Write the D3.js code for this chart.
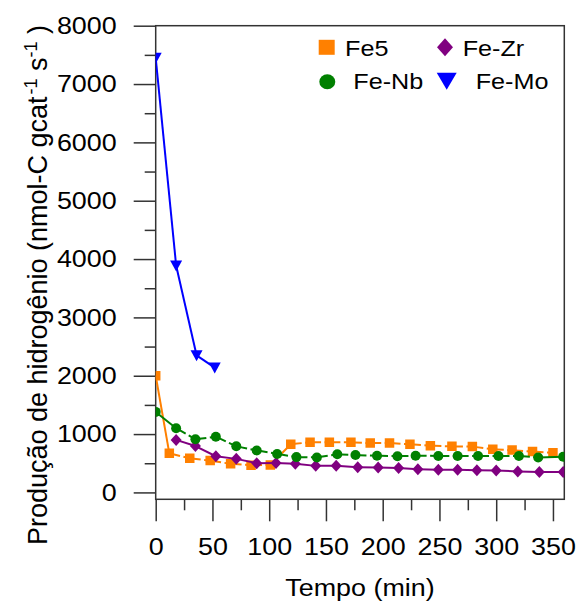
<!DOCTYPE html>
<html><head><meta charset="utf-8">
<script src="https://cdn.jsdelivr.net/npm/d3@7"></script>
<style>body{margin:0;background:#fff}svg{display:block}</style>
</head><body><svg id="c" width="577" height="601"></svg>
<script>
// ---- data ----
const xTickValues = [0, 50, 100, 150, 200, 250, 300, 350];
const yTickValues = [0, 1000, 2000, 3000, 4000, 5000, 6000, 7000, 8000];
const xMinorTicks = [25, 75, 125, 175, 225, 275, 325];
const yMinorTicks = [500, 1500, 2500, 3500, 4500, 5500, 6500, 7500];
const seriesNames = ["Fe5", "Fe-Zr", "Fe-Nb", "Fe-Mo"];

const fe5Time  = [0, 12, 30, 48, 66, 84, 101, 119, 136, 153, 172, 189, 206, 224, 242, 261, 279, 297, 314, 332, 350];
const fe5Value = [2000, 670, 585, 545, 490, 465, 470, 825, 860, 860, 860, 845, 845, 825, 800, 790, 785, 740, 725, 700, 680];

const feZrTime  = [18, 35, 53, 71, 89, 106, 123, 141, 159, 178, 196, 214, 231, 249, 266, 283, 300, 319, 338, 359];
const feZrValue = [900, 795, 620, 575, 500, 505, 490, 455, 455, 430, 425, 420, 395, 390, 390, 380, 375, 360, 350, 350];

const feNbTime  = [0, 18, 35, 53, 71, 89, 107, 124, 142, 160, 176, 195, 213, 229, 249, 266, 284, 302, 320, 337, 359];
const feNbValue = [1380, 1100, 910, 955, 790, 720, 660, 605, 600, 655, 640, 630, 620, 630, 625, 625, 625, 625, 625, 600, 610];

const feMoTime  = [0, 18, 36, 52];
const feMoValue = [7450, 3890, 2350, 2140];

// ---- layout / style ----
const plot = {left: 155.7, right: 564.3, top: 25.7, bottom: 499.3};
const axisColor = "#333";
const FONT = "'Liberation Sans', Arial, sans-serif";
const SX = 1.12;

const styles = {
  "Fe5":   {color: "#FF8000", dashed: true,  marker: "square",   w: 9.5,h: 9.5,lw: 16, lh: 15},
  "Fe-Zr": {color: "#800080", dashed: false, marker: "diamond",  w: 11, h: 12, lw: 16, lh: 18},
  "Fe-Nb": {color: "#008000", dashed: true,  marker: "circle",   w: 10, h: 10, lw: 16, lh: 15},
  "Fe-Mo": {color: "#0000FF", dashed: false, marker: "triangle", w: 12, h: 11, lw: 20, lh: 17}
};
const seriesData = {
  "Fe5":   fe5Time.map((t, i) => [t, fe5Value[i]]),
  "Fe-Zr": feZrTime.map((t, i) => [t, feZrValue[i]]),
  "Fe-Nb": feNbTime.map((t, i) => [t, feNbValue[i]]),
  "Fe-Mo": feMoTime.map((t, i) => [t, feMoValue[i]])
};

const svg = d3.select("#c");
const x = d3.scaleLinear().domain([0, 360]).range([plot.left, plot.right]);
const y = d3.scaleLinear().domain([-118, 8000]).range([plot.bottom, plot.top]);

function markerPath(type, w, h) {
  const a = w / 2, b = h / 2;
  if (type === "square") return `M${-a},${-b}H${a}V${b}H${-a}Z`;
  if (type === "diamond") return `M0,${-b}L${a},0L0,${b}L${-a},0Z`;
  if (type === "triangle") return `M${-a},${-b * 0.9}H${a}L0,${b * 1.1}Z`;
  return `M${-a},0A${a},${b} 0 1,0 ${a},0A${a},${b} 0 1,0 ${-a},0Z`;
}

svg.append("defs").append("clipPath").attr("id", "clip")
  .append("rect").attr("x", plot.left).attr("y", plot.top)
  .attr("width", plot.right - plot.left).attr("height", plot.bottom - plot.top);

function styleAxis(g) {
  g.select(".domain").remove();
  g.selectAll(".tick line").attr("stroke", axisColor).attr("stroke-width", 1.5);
}
const yAxis = svg.append("g").attr("transform", `translate(${plot.left},0)`)
  .call(d3.axisLeft(y).tickValues(yTickValues).tickSize(22).tickPadding(16).tickFormat(d3.format("d")));
styleAxis(yAxis);
yAxis.selectAll(".tick text").attr("x", 0).attr("transform", `translate(-39,0) scale(${SX},1)`)
  .attr("font-family", FONT).attr("font-size", 24).attr("fill", "#000");
const yMinor = svg.append("g").attr("transform", `translate(${plot.left},0)`)
  .call(d3.axisLeft(y).tickValues(yMinorTicks).tickSize(11).tickFormat(""));
styleAxis(yMinor);

const xAxis = svg.append("g").attr("transform", `translate(0,${plot.bottom})`)
  .call(d3.axisBottom(x).tickValues(xTickValues).tickSize(22).tickPadding(17).tickFormat(d3.format("d")));
styleAxis(xAxis);
xAxis.selectAll(".tick text").attr("y", 0).attr("transform", `translate(0,39) scale(${SX},1)`)
  .attr("font-family", FONT).attr("font-size", 24).attr("fill", "#000");
const xMinor = svg.append("g").attr("transform", `translate(0,${plot.bottom})`)
  .call(d3.axisBottom(x).tickValues(xMinorTicks).tickSize(11).tickFormat(""));
styleAxis(xMinor);

// frame
svg.append("rect").attr("x", plot.left).attr("y", plot.top)
  .attr("width", plot.right - plot.left).attr("height", plot.bottom - plot.top)
  .attr("fill", "none").attr("stroke", axisColor).attr("stroke-width", 1.5);

// series
const dataG = svg.append("g").attr("clip-path", "url(#clip)");
seriesNames.forEach(name => {
  const st = styles[name], pts = seriesData[name];
  const g = dataG.append("g");
  for (let i = 0; i < pts.length - 1; i++) {
    const x1 = x(pts[i][0]), y1 = y(pts[i][1]), x2 = x(pts[i + 1][0]), y2 = y(pts[i + 1][1]);
    const len = Math.hypot(x2 - x1, y2 - y1);
    g.append("line").attr("x1", x1).attr("y1", y1).attr("x2", x2).attr("y2", y2)
      .attr("stroke", st.color).attr("stroke-width", 2)
      .attr("stroke-dasharray", st.dashed && len < 24 ? "7,3.5" : null)
      .attr("stroke-dashoffset", st.dashed ? -4 : null);
  }
  g.selectAll("path").data(pts).join("path")
    .attr("transform", d => `translate(${x(d[0])},${y(d[1])})`)
    .attr("d", markerPath(st.marker, st.w, st.h))
    .attr("fill", st.color);
});

// axis titles
svg.append("text").attr("transform", `translate(360,596) scale(${SX},1)`)
  .attr("text-anchor", "middle").attr("font-family", FONT).attr("font-size", 24)
  .text("Tempo (min)");

const yt = svg.append("text").attr("transform", `translate(47,545) scale(1.03,1) rotate(-90)`)
  .attr("text-anchor", "start").attr("font-family", FONT).attr("font-size", 27);
yt.append("tspan").text("Produção de hidrogênio (nmol-C gcat");
yt.append("tspan").attr("dy", -10).attr("dx", 2).attr("font-size", 18).text("-1");
yt.append("tspan").attr("dy", 10).text(" s");
yt.append("tspan").attr("dy", -10).attr("font-size", 18).text("-1");
yt.append("tspan").attr("dy", 10).text(" )");

// legend
const legendItems = [
  {name: "Fe5",   mx: 326.7, my: 47.3, tx: 345,   ty: 55.5},
  {name: "Fe-Zr", mx: 445,   my: 47.3, tx: 462.7, ty: 55.5},
  {name: "Fe-Nb", mx: 327.3, my: 81.7, tx: 353.3, ty: 88.5},
  {name: "Fe-Mo", mx: 446.7, my: 80.5, tx: 475.7, ty: 88.5}
];
const lg = svg.append("g");
legendItems.forEach(it => {
  const st = styles[it.name];
  lg.append("path").attr("transform", `translate(${it.mx},${it.my})`)
    .attr("d", markerPath(st.marker, st.lw, st.lh)).attr("fill", st.color);
  lg.append("text").attr("transform", `translate(${it.tx},${it.ty}) scale(${SX},1)`)
    .attr("font-family", FONT).attr("font-size", 22.5).text(it.name);
});
</script></body></html>
